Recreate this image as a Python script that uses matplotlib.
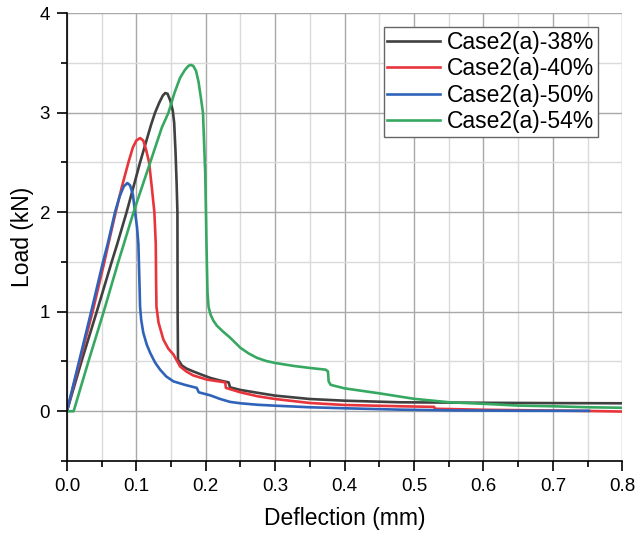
import matplotlib
matplotlib.use("Agg")
import matplotlib.pyplot as plt
from matplotlib.ticker import MultipleLocator

plt.rcParams["font.family"] = ["Liberation Sans", "DejaVu Sans"]

x_38 = [0, 0.021, 0.043, 0.0645, 0.0725, 0.086, 0.1054, 0.1213, 0.127, 0.133, 0.138,
        0.1415, 0.145, 0.149, 0.1525, 0.1545, 0.1565, 0.158, 0.1592, 0.1595, 0.16,
        0.1656, 0.172, 0.182, 0.195, 0.2065, 0.22, 0.233, 0.235, 0.25, 0.275,
        0.3, 0.35, 0.4, 0.48, 0.6, 0.7, 0.8]
y_38 = [0, 0.5, 1.0, 1.5, 1.68, 2.0, 2.5, 2.88, 3.0, 3.1, 3.17,
        3.197, 3.19, 3.12, 3.02, 2.9, 2.6, 2.3, 2.0, 1.0, 0.52,
        0.46, 0.43, 0.40, 0.365, 0.335, 0.31, 0.29, 0.24, 0.214, 0.185,
        0.157, 0.123, 0.106, 0.09, 0.085, 0.082, 0.08]

x_40 = [0, 0.0185, 0.037, 0.054, 0.0597, 0.0703, 0.079, 0.0886, 0.095, 0.1, 0.1054,
        0.11, 0.114, 0.1184, 0.122, 0.126, 0.128, 0.1285, 0.129, 0.132, 0.139,
        0.146, 0.1535, 0.163, 0.172, 0.182, 0.2017, 0.228, 0.229, 0.25, 0.275,
        0.3, 0.35, 0.4, 0.48, 0.529, 0.53, 0.6, 0.75, 0.8]
y_40 = [0, 0.5, 1.0, 1.5, 1.68, 2.0, 2.25, 2.5, 2.65, 2.72, 2.745,
        2.72, 2.63, 2.5, 2.27, 2.0, 1.68, 1.3, 1.05, 0.89, 0.72,
        0.63, 0.57, 0.45, 0.40, 0.36, 0.318, 0.29, 0.235, 0.19, 0.15,
        0.123, 0.083, 0.063, 0.05, 0.044, 0.025, 0.015, 0.003, -0.003]

x_50 = [0, 0.0175, 0.035, 0.052, 0.0587, 0.0693, 0.076, 0.082, 0.0871, 0.091, 0.095,
        0.0982, 0.101, 0.103, 0.1045, 0.1054, 0.107, 0.110, 0.115, 0.120, 0.127,
        0.134, 0.143, 0.1535, 0.17, 0.187, 0.19, 0.2065, 0.22, 0.235, 0.25,
        0.275, 0.3, 0.35, 0.4, 0.48, 0.56, 0.65, 0.752]
y_50 = [0, 0.5, 1.0, 1.5, 1.68, 2.0, 2.16, 2.26, 2.293, 2.27, 2.18,
        2.0, 1.85, 1.68, 1.3, 1.05, 0.92, 0.79, 0.67, 0.586, 0.49,
        0.42, 0.35, 0.30, 0.265, 0.235, 0.19, 0.16, 0.125, 0.094, 0.08,
        0.065, 0.056, 0.04, 0.03, 0.016, 0.008, 0.005, 0.004]

x_54 = [0, 0.0097, 0.031, 0.053, 0.074, 0.082, 0.096, 0.12, 0.1367, 0.1463, 0.155,
        0.163, 0.17, 0.175, 0.1786, 0.182, 0.186, 0.1896, 0.193, 0.196, 0.1993,
        0.201, 0.2025, 0.204, 0.207, 0.211, 0.216, 0.225, 0.235, 0.25, 0.262,
        0.274, 0.287, 0.3, 0.327, 0.35, 0.3726, 0.376, 0.377, 0.38, 0.4,
        0.45, 0.5, 0.551, 0.6, 0.65, 0.7, 0.752, 0.8]
y_54 = [0, 0, 0.5, 1.0, 1.5, 1.68, 2.0, 2.5, 2.85, 3.0, 3.2,
        3.35, 3.43, 3.47, 3.48, 3.47, 3.42, 3.31, 3.15, 3.0, 2.38,
        1.7, 1.2, 1.05, 0.97, 0.91, 0.86, 0.8, 0.74, 0.637, 0.58,
        0.536, 0.505, 0.485, 0.455, 0.435, 0.418, 0.40, 0.30, 0.265, 0.23,
        0.18, 0.125, 0.09, 0.075, 0.057, 0.05, 0.04, 0.035]

labels = ["Case2(a)-38%", "Case2(a)-40%", "Case2(a)-50%", "Case2(a)-54%"]
colors = ["#404040", "#e8353b", "#2f63b9", "#36a862"]

fig = plt.figure(figsize=(6.37, 5.37), dpi=100)
ax = fig.add_axes([0.105, 0.1415, 0.872, 0.834])

for xs, ys, lab, c in zip([x_38, x_40, x_50, x_54], [y_38, y_40, y_50, y_54], labels, colors):
    ax.plot(xs, ys, color=c, lw=1.9, label=lab, solid_joinstyle="round")

ax.set_xlim(0, 0.8)
ax.set_ylim(-0.5, 4)
ax.xaxis.set_major_locator(MultipleLocator(0.1))
ax.xaxis.set_minor_locator(MultipleLocator(0.05))
ax.yaxis.set_major_locator(MultipleLocator(1))
ax.yaxis.set_minor_locator(MultipleLocator(0.5))
ax.set_xticklabels([f"{v:.1f}" for v in ax.get_xticks()])

ax.grid(which="major", color="#a8a8a8", lw=1.0)
ax.grid(which="minor", color="#dadada", lw=1.0)
ax.set_axisbelow(True)

for s in ["top", "right"]:
    ax.spines[s].set_visible(False)
for s in ["left", "bottom"]:
    ax.spines[s].set_linewidth(1.2)
ax.tick_params(which="major", direction="out", length=7, width=1.2, labelsize=13.5, pad=5)
ax.tick_params(which="minor", direction="out", length=4, width=1.2)

ax.set_xlabel("Deflection (mm)", fontsize=16.5, labelpad=9)
ax.set_ylabel("Load (kN)", fontsize=16.5, labelpad=4)

ax.legend(loc="upper right", bbox_to_anchor=(0.9555, 0.968), borderaxespad=0,
          fontsize=16.5, frameon=True, fancybox=False, edgecolor="#666666",
          framealpha=1, handlelength=2.3, handletextpad=0.3, labelspacing=0.15,
          borderpad=0.15)

fig.savefig("out.png", dpi=100)
